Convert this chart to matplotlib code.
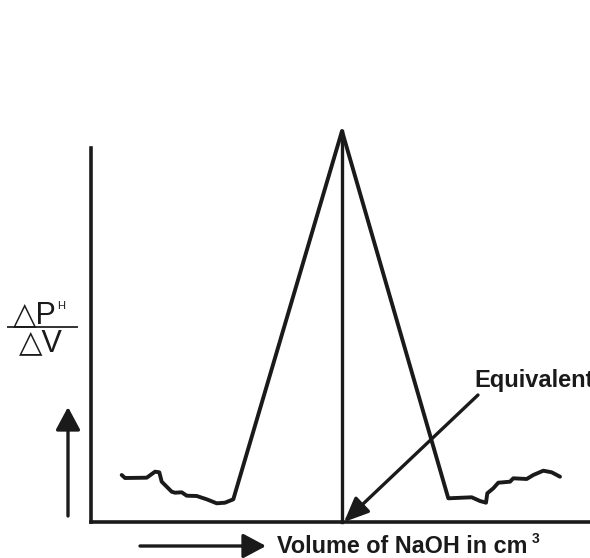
import matplotlib
matplotlib.use("Agg")
import matplotlib.pyplot as plt

# Data (x: volume offset, y: dpH/dV)
volume = [30.7, 34, 55.7, 64, 68.3, 70.7, 75.7, 80.7, 84, 90.7, 95.7, 105.7, 115.7,
          125.7, 134, 142.3, 251, 357.3, 380.7, 389, 395, 396.3, 402.3, 407.3,
          419, 422.3, 435.7, 442.3, 452.3, 460.7, 469]
dpdv = [47, 44, 44.3, 50.3, 49.7, 40.3, 35.3, 30.3, 29.3, 29.7, 26.3, 26, 22.7,
        18.7, 19.3, 22.7, 391, 23.7, 24.7, 21, 19.3, 28.7, 33.7, 39.3,
        40.3, 43.7, 43, 47, 51.3, 49.7, 45.3]
peak_x = 251
peak_y = 391

plt.rcParams['font.family'] = ['Liberation Sans', 'DejaVu Sans']
fig = plt.figure(figsize=(5.9, 5.58), dpi=100)

# main axes: origin at pixel (91, 522), top at 148
ax = fig.add_axes([91/590, (558-522)/558, (590-91)/590, (522-148)/558])
ax.set_xlim(0, 499)
ax.set_ylim(0, 374)
for s in ['top', 'right']:
    ax.spines[s].set_visible(False)
for s in ['left', 'bottom']:
    ax.spines[s].set_linewidth(2.6)
    ax.spines[s].set_color('#1a1a1a')
ax.set_xticks([])
ax.set_yticks([])
ax.patch.set_alpha(0)

ax.plot(volume, dpdv, color='#1a1a1a', lw=2.8, solid_joinstyle='round',
        solid_capstyle='round', clip_on=False)
ax.plot([peak_x, peak_x], [0, peak_y], color='#1a1a1a', lw=2.4, clip_on=False)

# overlay in pixel coordinates
ov = fig.add_axes([0, 0, 1, 1])
ov.set_xlim(0, 590)
ov.set_ylim(558, 0)
ov.axis('off')
ov.patch.set_alpha(0)

# diagonal arrow to equivalent point
ov.annotate('', xy=(344, 522), xytext=(478, 395),
            arrowprops=dict(arrowstyle='-|>,head_length=1.5,head_width=0.65',
                            color='#1a1a1a', lw=2.4, shrinkA=0, shrinkB=0))
ov.text(474, 387, 'Equivalent', fontsize=17, fontweight='bold', color='#1a1a1a',
        ha='left', va='baseline', clip_on=False)

# up arrow
ov.annotate('', xy=(68, 407), xytext=(68, 516),
            arrowprops=dict(arrowstyle='-|>,head_length=1.4,head_width=0.75',
                            color='#1a1a1a', lw=2.4, shrinkA=0, shrinkB=0))
# right arrow
ov.annotate('', xy=(266, 546), xytext=(140, 546),
            arrowprops=dict(arrowstyle='-|>,head_length=1.4,head_width=0.75',
                            color='#1a1a1a', lw=2.4, shrinkA=0, shrinkB=0))
ov.text(277, 553, 'Volume of NaOH in cm', fontsize=16.8, fontweight='bold',
        color='#1a1a1a', ha='left', va='baseline')
ov.text(532, 543, '3', fontsize=10, fontweight='bold', color='#1a1a1a',
        ha='left', va='baseline')

# y label fraction
ov.text(13, 323, '△P', fontsize=22, color='#1a1a1a', ha='left', va='baseline')
ov.text(57, 309, 'H', fontsize=8, color='#1a1a1a', ha='left', va='baseline')
ov.plot([8, 77], [327, 327], color='#333333', lw=1.4)
ov.text(41, 351, '△V', fontsize=22, color='#1a1a1a', ha='center', va='baseline')

fig.savefig('out.png', dpi=100)
